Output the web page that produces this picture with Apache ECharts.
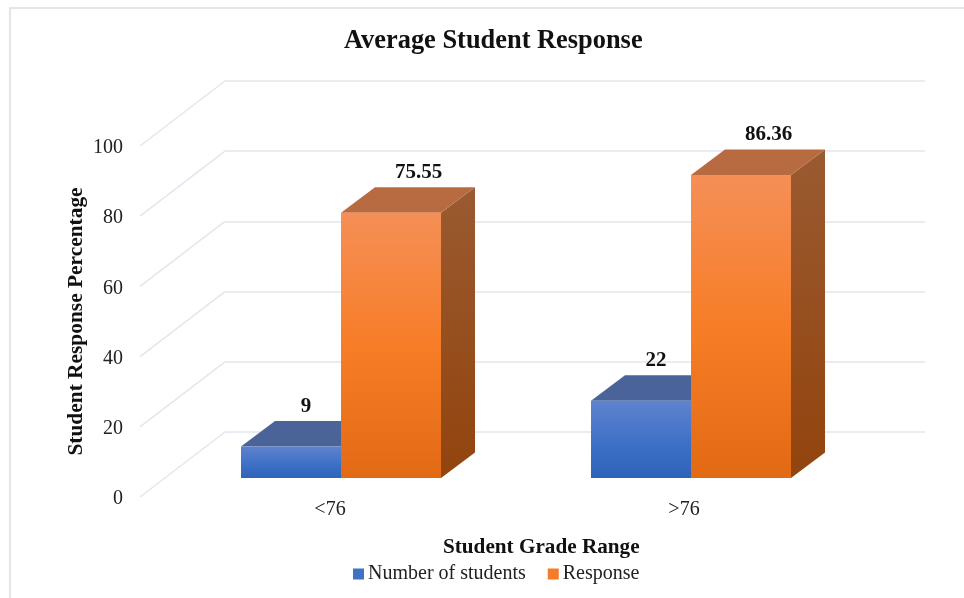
<!DOCTYPE html>
<html>
<head>
<meta charset="utf-8">
<title>Average Student Response</title>
<script src="https://cdn.jsdelivr.net/npm/echarts@6/dist/echarts.min.js"></script>
<style>
  html, body { margin: 0; padding: 0; background: #fff; }
  #chart { width: 964px; height: 598px; }
</style>
</head>
<body>
<div id="chart"></div>
<script>
const categories = ['<76', '>76']
const numberOfStudents = [9, 22]
const response = [75.55, 86.36]
const yTicks = [0, 20, 40, 60, 80, 100]

const font = '"Liberation Serif", "Times New Roman", serif'
const textColor = '#111'
const wallColor = '#e3e6ee'

const myChart = echarts.init(document.getElementById('chart'))

function vGrad(stops) {
  return {
    type: 'linear', x: 0, y: 0, x2: 0, y2: 1,
    colorStops: stops.map(s => ({ offset: s[0], color: s[1] }))
  }
}

// one 3D box: front face, top, right side and its value label
function box3d(slot, look) {
  return function (params, api) {
    const top = api.coord([api.value(0), api.value(1)])
    const zero = api.coord([api.value(0), 0])
    const band = api.size([1, 0])[0]
    const w = band * 2 / 7
    const x0 = top[0] - 59 - w + slot * w
    const x1 = x0 + w
    const yTop = top[1] + 46
    const yBase = zero[1] + 46
    const dx = 34
    const dy = 25.5
    return {
      type: 'group',
      children: [
        {
          type: 'polygon',
          shape: { points: [[x1, yTop], [x1 + dx, yTop - dy], [x1 + dx, yBase - dy], [x1, yBase]] },
          style: { fill: vGrad(look.side) }
        },
        {
          type: 'polygon',
          shape: { points: [[x0, yTop], [x0 + dx, yTop - dy], [x1 + dx, yTop - dy], [x1, yTop]] },
          style: { fill: look.top }
        },
        {
          type: 'rect',
          shape: { x: x0, y: yTop, width: w, height: yBase - yTop },
          style: { fill: vGrad(look.front) }
        },
        {
          type: 'text',
          x: (x0 + x1) / 2 + look.labelDx,
          y: yTop - 40,
          style: {
            text: String(api.value(1)),
            fill: textColor,
            font: 'bold 21px ' + font,
            align: 'center',
            verticalAlign: 'middle'
          }
        }
      ]
    }
  }
}

const blueLook = {
  front: [[0, '#5f83ce'], [0.6, '#3b6fc6'], [1, '#2f63ba']],
  top: '#4a6499',
  side: [[0, '#2f4d85'], [1, '#234278']],
  labelDx: 15
}
const orangeLook = {
  front: [[0, '#f58f57'], [0.5, '#f77d27'], [1, '#e36a14']],
  top: '#b86b40',
  side: [[0, '#9a5a31'], [1, '#92440d']],
  labelDx: 27.5
}

const option = {
  animation: false,
  title: [
    {
      text: 'Average Student Response',
      left: 339, top: 23,
      textStyle: { fontFamily: font, fontSize: 26.4, fontWeight: 'bold', color: textColor }
    },
    {
      text: 'Student Grade Range',
      left: 438, top: 532,
      textStyle: { fontFamily: font, fontSize: 21.2, fontWeight: 'bold', color: textColor }
    }
  ],
  legend: {
    data: ['Number of students', 'Response'],
    left: 353, top: 564,
    icon: 'rect',
    padding: 0,
    itemWidth: 11, itemHeight: 11, itemGap: 22,
    textStyle: { fontFamily: font, fontSize: 20, color: '#222', padding: [0, 0, 0, -1] }
  },
  grid: [
    { left: 225, top: 81, width: 700, height: 351 },
    { left: 153, top: 148, width: 708, height: 351 }
  ],
  xAxis: [
    {
      gridIndex: 0, type: 'category', data: categories,
      axisLine: { show: false }, axisTick: { show: false }, axisLabel: { show: false }
    },
    {
      gridIndex: 1, type: 'category', data: categories,
      axisLine: { show: false }, axisTick: { show: false },
      axisLabel: { fontFamily: font, fontSize: 20, color: '#222', margin: 1 }
    }
  ],
  yAxis: [
    {
      gridIndex: 0, type: 'value', min: 0, max: 100, interval: 20,
      axisLine: { show: false }, axisTick: { show: false }, axisLabel: { show: false },
      splitLine: { lineStyle: { color: wallColor, width: 1.5 } }
    },
    {
      gridIndex: 1, type: 'value', min: 0, max: 100, interval: 20,
      name: 'Student Response Percentage',
      nameLocation: 'middle', nameGap: 66, nameRotate: 90, nameMoveOverlap: false,
      nameTextStyle: { fontFamily: font, fontSize: 21.4, fontWeight: 'bold', color: textColor, padding: [0, 0, 0, 4] },
      axisLine: { show: false }, axisTick: { show: false }, splitLine: { show: false },
      axisLabel: { fontFamily: font, fontSize: 20, color: '#222', margin: 30 }
    }
  ],
  series: [
    {
      name: 'wall',
      type: 'custom',
      xAxisIndex: 0, yAxisIndex: 0,
      silent: true,
      data: yTicks.map(t => [categories[0], t]),
      renderItem: function (params, api) {
        const p = api.coord([api.value(0), api.value(1)])
        return {
          type: 'line',
          shape: { x1: params.coordSys.x, y1: p[1], x2: params.coordSys.x - 85, y2: p[1] + 65 },
          style: { stroke: wallColor, lineWidth: 1.5, fill: null }
        }
      }
    },
    {
      name: 'Number of students',
      type: 'custom',
      xAxisIndex: 0, yAxisIndex: 0,
      itemStyle: { color: '#3f71c6' },
      data: categories.map((c, i) => [c, numberOfStudents[i]]),
      renderItem: box3d(0, blueLook)
    },
    {
      name: 'Response',
      type: 'custom',
      xAxisIndex: 0, yAxisIndex: 0,
      itemStyle: { color: '#f47b28' },
      data: categories.map((c, i) => [c, response[i]]),
      renderItem: box3d(1, orangeLook)
    }
  ],
  graphic: [
    {
      type: 'polyline', silent: true,
      shape: { points: [[10, 598], [10, 8], [964, 8]] },
      style: { stroke: '#e1e5ec', lineWidth: 2, fill: null }
    }
  ]
}

option && myChart.setOption(option)
</script>
</body>
</html>
